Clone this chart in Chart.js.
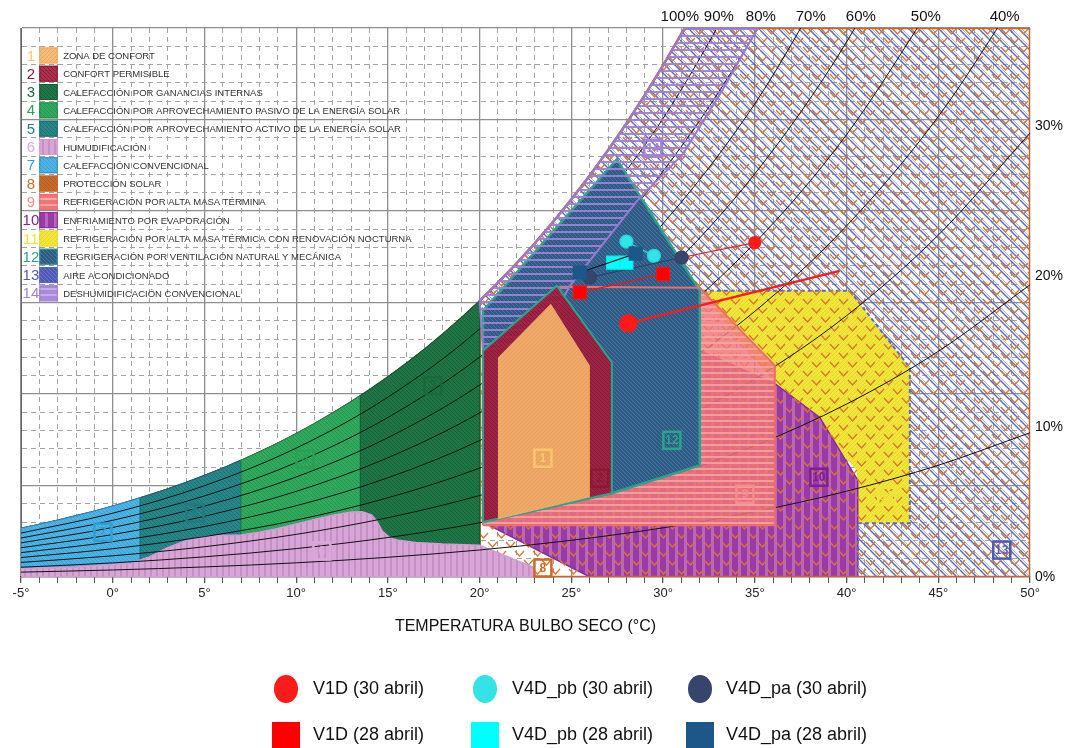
<!DOCTYPE html>
<html>
<head>
<meta charset="utf-8">
<script src="https://cdn.jsdelivr.net/npm/chart.js@4/dist/chart.umd.min.js"></script>
<style>
  html, body { margin: 0; padding: 0; background: #fff; }
  #wrap { width: 1066px; height: 748px; }
</style>
</head>
<body>
<div id="wrap"><canvas id="chart" width="1066" height="748"></canvas></div>
<script>
// ---------------- data ----------------
// dry-bulb temperatures used for the relative humidity curves (°C)
const rhTemps = [-5, 0, 5, 10, 15, 20, 25, 30, 35, 40, 45, 50];
// humidity ratio (g/kg) of each relative humidity curve at rhTemps
const rh90 = [2.400, 3.486, 4.988, 7.044, 9.826, 13.555, 18.510, 25.054, 33.647];
const rh80 = [2.132, 3.097, 4.430, 6.253, 8.719, 12.020, 16.399, 22.170, 29.730, 39.6];
const rh70 = [1.865, 2.708, 3.873, 5.465, 7.616, 10.492, 14.302, 19.313, 25.859, 34.373];
const rh60 = [1.598, 2.320, 3.317, 4.678, 6.516, 8.971, 12.219, 16.481, 22.034, 29.231, 38.52];
const rh50 = [1.331, 1.932, 2.761, 3.894, 5.421, 7.458, 10.149, 13.674, 18.254, 24.170, 31.773];
const rh40 = [1.064, 1.545, 2.207, 3.111, 4.329, 5.952, 8.093, 10.891, 14.518, 19.187, 25.161, 32.77];
const rh30 = [0.798, 1.158, 1.654, 2.330, 3.241, 4.454, 6.050, 8.133, 10.826, 14.280, 18.682, 24.259];
const rh20 = [0.532, 0.771, 1.102, 1.552, 2.157, 2.962, 4.020, 5.398, 7.175, 9.448, 12.331, 15.965];
const rh10 = [0.266, 0.385, 0.550, 0.775, 1.077, 1.477, 2.004, 2.687, 3.567, 4.688, 6.105, 7.882];

// saturation curve (100 %), one point per degree
const satTemps = [-5, -4, -3, -2, -1, 0, 1, 2, 3, 4, 5, 6, 7, 8, 9, 10, 11, 12, 13, 14, 15, 16, 17, 18,
  19, 20, 21, 22, 23, 24, 25, 26, 27, 28, 29, 30, 31, 32];
const satW = [2.668, 2.878, 3.105, 3.346, 3.601, 3.876, 4.169, 4.481, 4.814, 5.169, 5.547, 5.951,
  6.379, 6.836, 7.320, 7.836, 8.385, 8.967, 9.585, 10.241, 10.937, 11.675, 12.458, 13.287, 14.166,
  15.097, 16.083, 17.126, 18.231, 19.399, 20.635, 21.943, 23.324, 24.786, 26.330, 27.962, 29.687, 31.51];

// labels of the relative humidity curves along the top edge
const rhLabels = ['100%', '90%', '80%', '70%', '60%', '50%', '40%'];
const rhLabelTemps = [30.91, 33.04, 35.33, 38.05, 40.78, 44.32, 48.62];

// right axis ticks
const rightTicks = [0, 10, 20, 30];

function satRun(a, b) {
  return satTemps.map((t, i) => [t, satW[i]]).filter(([t]) => t >= a && t <= b);
}

// strategy zones, [temperature, humidity ratio] vertices
const zone1 = [[21.0, 3.16], [21.0, 11.99], [23.88, 14.93], [26.01, 11.55], [26.01, 4.36]];
const zone2 = [[20.18, 3.0], [20.18, 12.37], [24.21, 15.91], [27.21, 11.72], [27.21, 4.58]];
const zone3 = [[13.5, 0], [13.5, 9.91], ...satRun(14, 20), [20, 0]];
const zone4 = [[7, 0], ...satRun(7, 13), [13.5, 9.91], [13.5, 0]];
const zone5 = [[1.5, 0], [1.5, 4.33], ...satRun(2, 7), [7, 0]];
const zone6 = [[-5, 0], [-5, 0.47], [-2, 0.55], [1, 0.75], [2, 1.1], [3, 1.6], [4, 2.0], [5, 2.2],
  [6, 2.28], [7, 2.3], [8, 2.45], [9, 2.65], [10, 2.9], [11, 3.15], [12, 3.38], [13, 3.55], [13.6, 3.56],
  [14.1, 3.4], [14.4, 3.05], [14.7, 2.5], [15.1, 2.15], [15.5, 2.02], [16.5, 1.88], [18, 1.8],
  [20, 1.74], [22.9, 0.54], [23.1, 0]];
const zone7 = [[-5, 0], ...satRun(-5, 1), [1.5, 4.33], [1.5, 0]];
const zone8 = [[20, 0], ...satRun(20, 31), [31.18, 30], [50, 30], [50, 0]];
// visible part of zone 9 (around the ventilation and comfort zones)
const zone9 = [[20.18, 2.83], [20.18, 3.0], [27.21, 4.58], [32.0, 6.10], [32.0, 15.80], [36.09, 11.55],
  [36.09, 2.83]];
// upper edge of zone 9 crossing the ventilation zone
const zone9Edge = [[20.18, 12.37], [24.37, 15.86], [32.0, 15.80]];
const zone10 = [[20.18, 3.0], [26.01, 0], [40.61, 0], [40.61, 5.29], [38.54, 8.72], [36.09, 10.57],
  [32.0, 12.37], [20.18, 13.46]];
const zone11 = [[32.0, 15.64], [40.18, 15.64], [43.45, 11.44], [43.45, 2.94], [40.56, 2.94],
  [40.56, 5.83], [35.5, 11.3]];
const zone12 = [[20.18, 3.0], [20.18, 14.55], [27.48, 22.83], [32.0, 15.64], [32.0, 6.10], [27.21, 4.58]];
const zone13 = [...satRun(20, 31), [31.18, 30], [50, 30], [50, 0], [40.61, 0], [40.61, 2.94],
  [43.45, 2.94], [43.45, 11.44], [40.18, 15.64], [32.0, 15.64], [20.18, 14.55]];
const zone14 = [...satRun(20, 31), [31.18, 30], [35.16, 30], [33.2, 26.54], [31.08, 23.11],
  [28.57, 20.54], [24.92, 15.91], [23.28, 12.92], [20.18, 12.37]];

// zone names for the key
const zoneNames = ['ZONA DE CONFORT', 'CONFORT PERMISIBLE', 'CALEFACCIÓN POR GANANCIAS INTERNAS',
  'CALEFACCIÓN POR APROVECHAMIENTO PASIVO DE LA ENERGÍA SOLAR',
  'CALEFACCIÓN POR APROVECHAMIENTO ACTIVO DE LA ENERGÍA SOLAR', 'HUMUDIFICACIÓN',
  'CALEFACCIÓN CONVENCIONAL', 'PROTECCIÓN SOLAR', 'REFRIGERACIÓN POR ALTA MASA TÉRMINA',
  'ENFRIAMIENTO POR EVAPORACIÓN', 'REFRIGERACIÓN POR ALTA MASA TÉRMICA CON RENOVACIÓN NOCTURNA',
  'REGRIGERACIÓN POR VENTILACIÓN NATURAL Y MECÁNICA', 'AIRE ACONDICIONADO',
  'DESHUMIDIFICACIÓN CONVENCIONAL'];

// measured states (temperature °C, humidity ratio g/kg)
const v1d30T = [28.10, 39.63], v1d30W = [13.86, 16.73];
const v1d30bT = [31.01, 35.0], v1d30bW = [17.46, 18.27];
const v4dpb30T = [28.0, 29.5], v4dpb30W = [18.33, 17.55];
const v4dpa30T = [26.01, 31.01], v4dpa30W = [16.37, 17.46];
const v1d28T = [25.46, 30.0], v1d28W = [15.55, 16.55];
const v4dpb28T = [27.28, 28.0], v4dpb28W = [17.18, 17.18];
const v4dpa28T = [25.46, 28.51], v4dpa28W = [16.64, 17.67];

// ---------------- styling ----------------
const FAMILY = 'Arial, "Liberation Sans", Helvetica, sans-serif';

function tile(w, h, bg, paint) {
  const c = document.createElement('canvas');
  c.width = w; c.height = h;
  const g = c.getContext('2d');
  if (bg) { g.fillStyle = bg; g.fillRect(0, 0, w, h); }
  if (paint) paint(g, w, h);
  return g.createPattern(c, 'repeat');
}
const diagDown = (color, lw, shift = 0) => (g, w, h) => {
  g.strokeStyle = color; g.lineWidth = lw; g.beginPath();
  for (const o of [-w, 0, w]) { g.moveTo(o + shift, 0); g.lineTo(o + shift + w, h); }
  g.stroke();
};
const diagUp = (color, lw) => (g, w, h) => {
  g.strokeStyle = color; g.lineWidth = lw; g.beginPath();
  for (const o of [-w, 0, w]) { g.moveTo(o, h); g.lineTo(o + w, 0); }
  g.stroke();
};
const hLines = (color, lw) => (g, w) => { g.fillStyle = color; g.fillRect(0, 0, w, lw); };
const vLines = (color, lw) => (g, w, h) => { g.fillStyle = color; g.fillRect(0, 0, lw, h); };
const both = (a, b) => (g, w, h) => { a(g, w, h); b(g, w, h); };
const chevrons = (color, lw) => (g) => {
  g.strokeStyle = color; g.lineWidth = lw; g.beginPath();
  for (const [x, y] of [[2, 2], [11, 11], [-7, 11]]) {
    g.moveTo(x, y); g.lineTo(x + 4.5, y + 5); g.lineTo(x + 9, y);
  }
  g.stroke();
};

const fills = {
  1: tile(4, 4, 'rgba(246,182,108,0.92)', diagUp('rgba(226,150,80,0.6)', 1)),
  2: tile(4, 4, 'rgba(165,31,64,0.92)', diagDown('rgba(130,18,45,0.7)', 1)),
  3: tile(4, 4, '#1f7645', diagDown('#17613a', 1)),
  4: tile(4, 4, '#30ab5d', diagDown('#25954f', 1)),
  5: tile(4, 4, '#27888b', diagDown('#1d7175', 1)),
  6: tile(6, 6, '#d8a5d7', vLines('#c690c5', 2)),
  7: tile(4, 4, '#4db5e5', diagDown('#3ca2d4', 1)),
  8: tile(18, 18, null, chevrons('#d9762f', 1.3)),
  9: tile(6, 6, 'rgba(240,118,118,0.84)', hLines('rgba(248,168,168,0.8)', 2)),
  10: tile(9, 9, '#9a3ba5', vLines('#b767c0', 3)),
  11: tile(4, 4, '#f1e73a', diagUp('#e3d62c', 1)),
  12: tile(4, 4, '#30598a', diagDown('#3f7d92', 1)),
  13: tile(10, 10, null, both(diagDown('#5a67c4', 1.4), diagDown('rgba(120,130,210,0.7)', 0.9, 3))),
  14: tile(7, 7, null, hLines('rgba(160,128,215,0.95)', 2))
};
// opaque swatches for the key where the zone itself is only a hatch
const swatches = Object.assign({}, fills, {
  8: tile(4, 4, '#c8692c', diagDown('#b35a22', 1)),
  9: tile(6, 6, '#f07676', hLines('#f8a8a8', 2)),
  13: tile(4, 4, '#4e5ab4', diagDown('#6a76cc', 1)),
  14: tile(6, 6, '#a88bd8', hLines('#c4adea', 2))
});
const zoneColors = {
  1: '#f9c66e', 2: '#8e1731', 3: '#17693a', 4: '#27a153', 5: '#1f7b7e', 6: '#dca8d8',
  7: '#2f9fd6', 8: '#cf6a25', 9: '#f28e8e', 10: '#7d2190', 11: '#efe53a', 12: '#2aa58a',
  13: '#4f5bb5', 14: '#a083d8'
};
const zoneBorders = {
  1: '#f0a95a', 2: '#2aa58a', 3: '#155c33', 4: '#1f8c45', 5: '#1c6c70', 6: '#d49ad2',
  7: '#2c8fc4', 8: '#cf6420', 9: '#ee6c6c', 10: '#8a2a98', 11: '#e8dd30', 12: '#2aa58a',
  13: '#5a67c4', 14: '#9a7ad0'
};
const TRANSPARENT = 'rgba(0,0,0,0)';

// zone number tags inside the chart (temperature, humidity ratio)
const zoneTags = [
  [1, 23.45, 6.49], [2, 26.55, 5.40], [3, 17.45, 10.46], [4, 10.48, 6.43], [5, 4.48, 3.49],
  [6, 11.40, 1.42], [7, -0.53, 2.45], [8, 23.45, 0.49], [9, 34.46, 4.52], [10, 38.49, 5.45],
  [11, 42.19, 4.41], [12, 30.48, 7.47], [13, 48.46, 1.47], [14, 29.44, 23.43]
];

const pts = (arr) => arr.map(([x, y]) => ({ x, y }));
const closed = (arr) => pts([...arr, arr[0]]);
const series = (T, W) => T.map((t, i) => ({ x: t, y: W[i] }));

function zoneSet(n, poly, order, extra) {
  return Object.assign({
    label: 'zona ' + n, data: closed(poly), fill: 'shape', backgroundColor: fills[n],
    borderColor: zoneBorders[n], borderWidth: 1.5, pointRadius: 0, tension: 0, order
  }, extra || {});
}
function rhSet(vals, order) {
  return {
    label: 'rh', data: series(rhTemps.slice(0, vals.length), vals), fill: false,
    backgroundColor: TRANSPARENT, borderColor: '#111', borderWidth: 1, pointRadius: 0,
    cubicInterpolationMode: 'monotone', capBezierPoints: false, order
  };
}

const datasets = [
  zoneSet(11, zone11, 40, { borderWidth: 0 }),
  zoneSet(10, zone10, 39),
  zoneSet(13, zone13, 38, { borderDash: [4, 3], borderWidth: 2 }),
  { label: 'sat', data: series(satTemps, satW), fill: false, backgroundColor: TRANSPARENT,
    borderColor: '#222', borderWidth: 1.4, pointRadius: 0, tension: 0, order: 37.5 },
  zoneSet(8, zone8, 37, { borderWidth: 2.5 }),
  zoneSet(7, zone7, 36, { borderWidth: 1 }),
  zoneSet(5, zone5, 35, { borderWidth: 1 }),
  zoneSet(4, zone4, 34, { borderWidth: 1 }),
  zoneSet(3, zone3, 33, { borderWidth: 1 }),
  zoneSet(6, zone6, 32, { borderWidth: 1.5 }),
  rhSet(rh90, 31), rhSet(rh80, 31), rhSet(rh70, 31), rhSet(rh60, 31), rhSet(rh50, 31),
  rhSet(rh40, 31), rhSet(rh30, 31), rhSet(rh20, 31), rhSet(rh10, 31),
  zoneSet(9, zone9, 30, { borderWidth: 2 }),
  zoneSet(12, zone12, 29, { borderWidth: 2.5 }),
  { label: 'zona 9 borde', data: pts(zone9Edge), fill: false, backgroundColor: TRANSPARENT,
    borderColor: zoneBorders[9], borderWidth: 2, pointRadius: 0, tension: 0, order: 28 },
  zoneSet(14, zone14, 27, { borderWidth: 2 }),
  zoneSet(2, zone2, 26, { borderWidth: 2 }),
  zoneSet(1, zone1, 25, { borderWidth: 0 }),
  // measured states
  { label: 'V1D (30 abril)', data: series(v1d30T, v1d30W), borderColor: '#ff1a1a', backgroundColor: '#ff1a1a',
    fill: false, borderWidth: 2.5, pointRadius: [8, 0], pointStyle: 'circle', order: 7, legendSlot: [0, 0] },
  { label: 'V1D (30 abril) enlace', data: series(v1d30bT, v1d30bW), borderColor: '#ff1a1a',
    backgroundColor: '#ff1a1a', fill: false, borderWidth: 1.2, pointRadius: [0, 6], pointStyle: 'circle', order: 6 },
  { label: 'V4D_pb (30 abril)', data: series(v4dpb30T, v4dpb30W), borderColor: '#1fd6dc',
    backgroundColor: '#33e3e6', fill: false, borderWidth: 1.3, pointRadius: 6.5, pointStyle: 'circle', order: 5,
    legendSlot: [0, 1] },
  { label: 'V4D_pa (30 abril)', data: series(v4dpa30T, v4dpa30W), borderColor: '#2f4166',
    backgroundColor: '#35456b', fill: false, borderWidth: 1.2, pointRadius: 6.5, pointStyle: 'circle', order: 4,
    legendSlot: [0, 2] },
  { label: 'V1D (28 abril)', data: series(v1d28T, v1d28W), borderColor: '#ff1010', backgroundColor: '#ff0000',
    fill: false, borderWidth: 1.2, pointRadius: 9.2, pointStyle: 'rect', order: 3, legendSlot: [1, 0] },
  { label: 'V4D_pb (28 abril)', data: series(v4dpb28T, v4dpb28W), borderColor: '#00f0f0',
    backgroundColor: '#00ffff', fill: false, borderWidth: 1.2, pointRadius: 9.2, pointStyle: 'rect', order: 2,
    legendSlot: [1, 1] },
  { label: 'V4D_pa (28 abril)', data: series(v4dpa28T, v4dpa28W), borderColor: '#111',
    backgroundColor: '#1d5689', fill: false, borderWidth: 1.2, pointRadius: 9.2, pointStyle: 'rect',
    pointBorderColor: '#1d5689', order: 1, legendSlot: [1, 2] }
];

const isMajor = (c) => c.tick && Math.abs(c.tick.value % 5) < 1e-9;

// key, labels and tags drawn over the zones
const overlay = {
  id: 'overlay',
  afterDatasetsDraw(chart) {
    const { ctx } = chart;
    const x = chart.scales.x, y = chart.scales.y;
    ctx.save();
    // relative humidity labels
    ctx.font = '15px ' + FAMILY;
    ctx.fillStyle = '#111';
    ctx.textAlign = 'center';
    ctx.textBaseline = 'middle';
    rhLabels.forEach((t, i) => ctx.fillText(t, x.getPixelForValue(rhLabelTemps[i]), 17));

    // zone tags
    zoneTags.forEach(([n, t, w]) => {
      const px = x.getPixelForValue(t), py = y.getPixelForValue(w);
      ctx.lineWidth = 2.5;
      ctx.strokeStyle = zoneColors[n];
      ctx.strokeRect(px - 8.5, py - 8.5, 17, 17);
      ctx.fillStyle = zoneColors[n];
      ctx.font = 'bold 12px ' + FAMILY;
      ctx.fillText(String(n), px, py + 0.5);
    });

    // zone key, one row per grid unit
    zoneNames.forEach((name, i) => {
      const n = i + 1;
      const cy = y.getPixelForValue(28.5 - i);
      const sx = x.getPixelForValue(-4), ex = x.getPixelForValue(-3);
      ctx.fillStyle = swatches[n];
      ctx.fillRect(sx, cy - 8, ex - sx, 16);
      ctx.lineWidth = 1;
      ctx.strokeStyle = n === 2 ? '#8e1731' : zoneBorders[n];
      ctx.strokeRect(sx + 0.5, cy - 7.5, ex - sx - 1, 15);
      ctx.font = '15px ' + FAMILY;
      ctx.textAlign = 'center';
      ctx.fillStyle = zoneColors[n];
      ctx.fillText(String(n), x.getPixelForValue(-4.46), cy + 1);
      ctx.font = '9.5px ' + FAMILY;
      ctx.textAlign = 'left';
      ctx.fillStyle = '#333';
      ctx.fillText(name, x.getPixelForValue(-3) + 5.5, cy + 1);
    });
    ctx.restore();
  },
  afterDraw(chart) {
    // key of the measured states below the axis title
    const { ctx } = chart;
    const colX = [286, 485, 700], rowY = [689, 735];
    ctx.save();
    ctx.font = '18px ' + FAMILY;
    ctx.textBaseline = 'middle';
    ctx.textAlign = 'left';
    chart.data.datasets.forEach((ds) => {
      if (!ds.legendSlot) return;
      const [r, c] = ds.legendSlot;
      const cx = colX[c], cy = rowY[r];
      ctx.fillStyle = ds.backgroundColor;
      ctx.beginPath();
      if (ds.pointStyle === 'circle') ctx.ellipse(cx, cy, 12, 14, 0, 0, Math.PI * 2);
      else ctx.rect(cx - 14, cy - 13, 28, 28);
      ctx.fill();
      ctx.fillStyle = '#111';
      ctx.fillText(ds.label, cx + (c === 2 ? 26 : 27), cy);
    });
    ctx.restore();
  }
};

new Chart(document.getElementById('chart'), {
  type: 'line',
  data: { datasets },
  options: {
    responsive: false,
    animation: false,
    events: [],
    layout: { padding: { top: 28, left: 0, right: 0, bottom: 0 } },
    plugins: { legend: { display: false }, tooltip: { enabled: false } },
    elements: { line: { tension: 0 } },
    scales: {
      x: {
        type: 'linear', min: -5, max: 50,
        afterFit: (s) => { s.height = 171; },
        ticks: {
          stepSize: 1, autoSkip: false, maxRotation: 0, padding: 3, color: '#222',
          font: { size: 13, family: FAMILY },
          callback: (v) => (Math.abs(v % 5) < 1e-9 ? v + '°' : '')
        },
        grid: {
          color: (c) => (isMajor(c) ? '#8e8e8e' : '#a2a2a2'),
          lineWidth: (c) => (isMajor(c) ? 1.3 : 1),
          tickLength: 6, tickColor: '#555', drawTicks: true
        },
        border: { display: true, color: '#333', width: 1.2, dash: (c) => (c.tick && !isMajor(c) ? [5, 4] : []) },
        title: {
          display: true, text: 'TEMPERATURA BULBO SECO (°C)', color: '#111',
          font: { size: 16, family: FAMILY }, padding: { top: 0, bottom: 112 }
        }
      },
      y: {
        min: 0, max: 30,
        afterFit: (s) => { s.width = 21; },
        ticks: { display: false, stepSize: 1 },
        grid: {
          color: (c) => (isMajor(c) ? '#8e8e8e' : '#a2a2a2'),
          lineWidth: (c) => (isMajor(c) ? 1.3 : 1),
          drawTicks: false
        },
        border: { display: true, color: '#666', width: 1, dash: (c) => (c.tick && !isMajor(c) ? [5, 4] : []) }
      },
      y2: {
        position: 'right', min: 0, max: 36.55,
        afterFit: (s) => { s.width = 36; },
        grid: { display: false, drawOnChartArea: false, drawTicks: false },
        border: { display: false },
        ticks: {
          stepSize: 10, includeBounds: false, padding: 5, color: '#111',
          font: { size: 14, family: FAMILY },
          callback: (v) => (rightTicks.includes(v) ? v + '%' : '')
        }
      }
    }
  },
  plugins: [overlay]
});
</script>
</body>
</html>
